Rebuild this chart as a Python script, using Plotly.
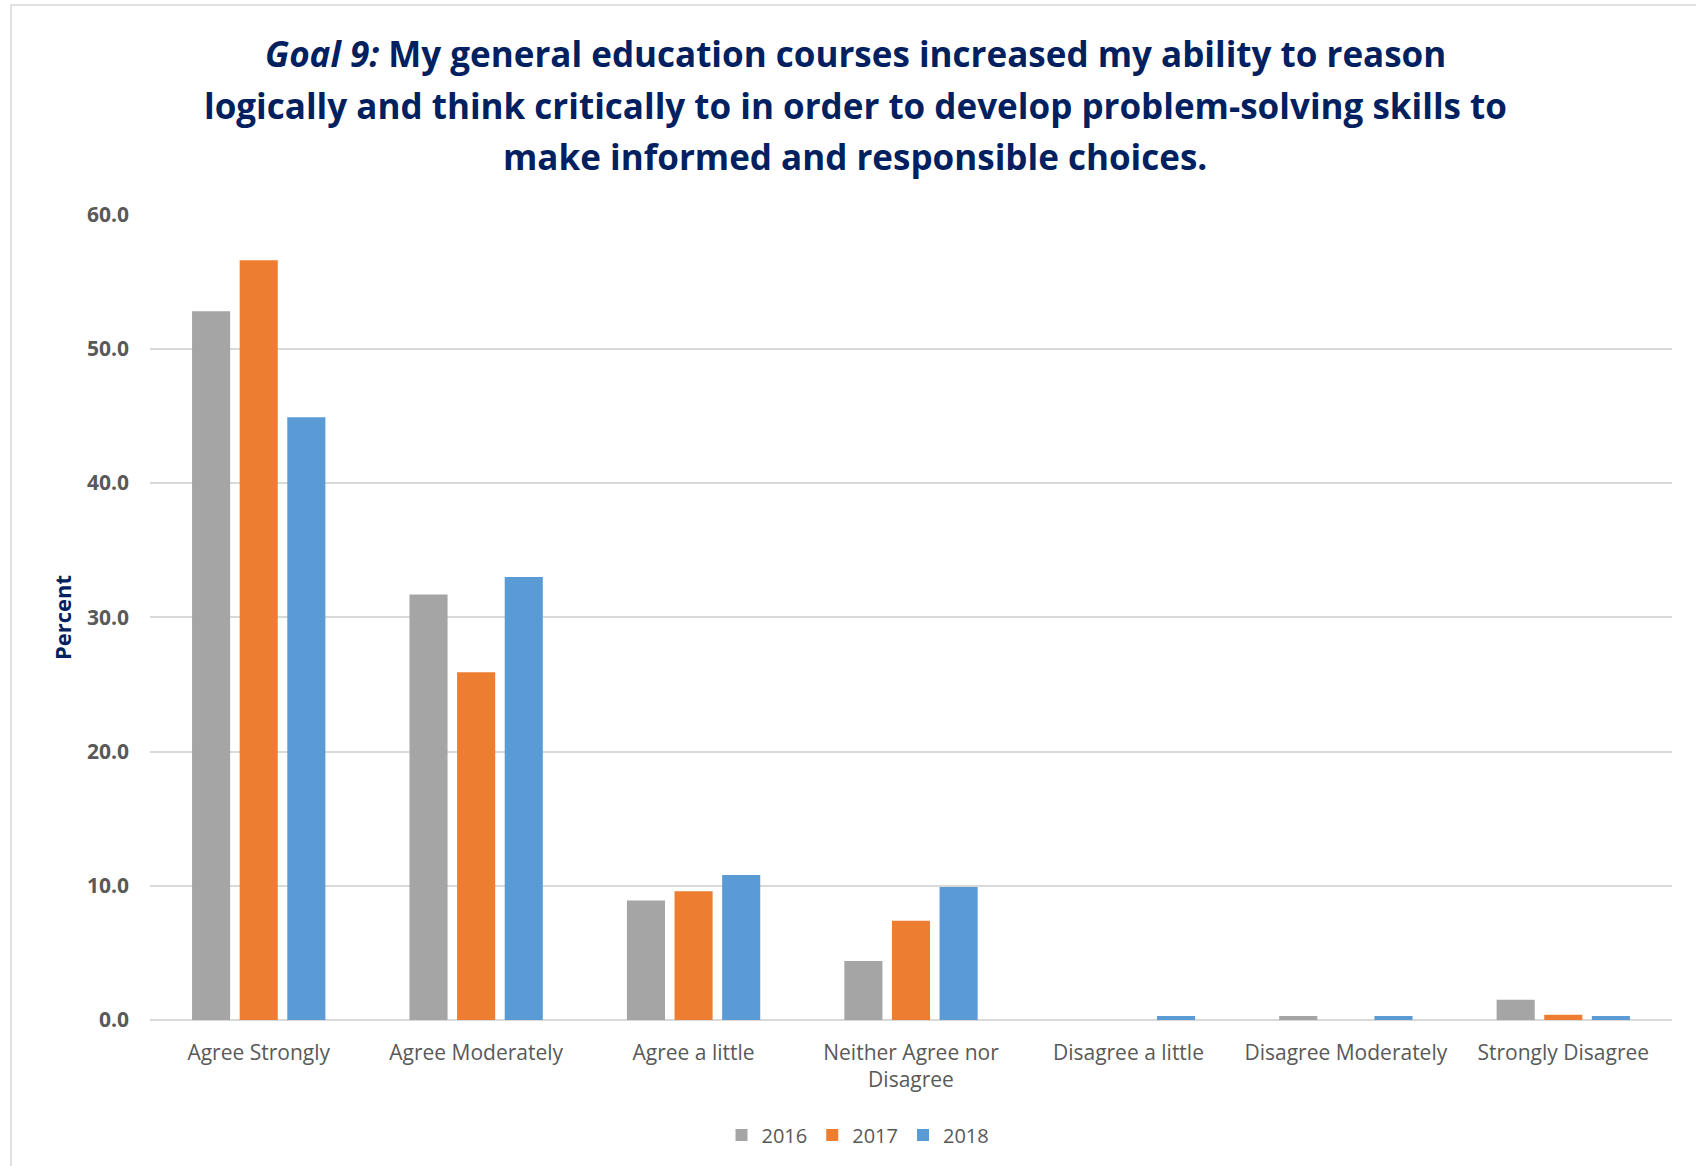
import plotly.graph_objects as go

categories = ["Agree Strongly", "Agree Moderately", "Agree a little",
              "Neither Agree nor<br>Disagree", "Disagree a little",
              "Disagree Moderately", "Strongly Disagree"]
years = ["2016", "2017", "2018"]
values_2016 = [52.8, 31.7, 8.9, 4.4, 0.0, 0.3, 1.5]
values_2017 = [56.6, 25.9, 9.6, 7.4, 0.0, 0.0, 0.4]
values_2018 = [44.9, 33.0, 10.8, 9.9, 0.3, 0.3, 0.3]
colors = ["#A5A5A5", "#ED7D31", "#5B9BD5"]
y_ticks = [0, 10, 20, 30, 40, 50, 60]

title_lines = [
    "<i>Goal 9:</i> My general education courses increased my ability to reason",
    "logically and think critically to in order to develop problem-solving skills to",
    "make informed and responsible choices.",
]

W, H = 1696, 1166
L, R, T, B = 150, 24, 214, 146
pw, ph = W - L - R, H - T - B

def px_x(x):
    return (x - L) / pw

def px_y(y):
    return (H - B - y) / ph

fig = go.Figure()
for yr, vals, c in zip(years, [values_2016, values_2017, values_2018], colors):
    fig.add_trace(go.Bar(name=yr, x=categories, y=vals, marker_color=c,
                         marker_line_width=0))

annotations = []
for i, (line, yp) in enumerate(zip(title_lines, [53, 105, 157])):
    annotations.append(dict(text="<b>" + line + "</b>", xref="paper", yref="paper",
                            x=px_x(855), y=px_y(yp), xanchor="center", yanchor="middle",
                            showarrow=False,
                            font=dict(family="Open Sans", size=35, color="#002060")))
annotations.append(dict(text="<b>Percent</b>", xref="paper", yref="paper",
                        x=px_x(62), y=px_y(618), xanchor="center", yanchor="middle",
                        textangle=-90, showarrow=False,
                        font=dict(family="Open Sans", size=22, color="#002060")))

fig.update_layout(
    width=W, height=H,
    margin=dict(l=L, r=R, t=T, b=B, pad=0),
    paper_bgcolor="white", plot_bgcolor="white",
    barmode="group", bargap=0.343, bargroupgap=0.2,
    annotations=annotations,
    shapes=[dict(type="rect", xref="paper", yref="paper",
                 x0=px_x(11), x1=px_x(1750), y0=px_y(1250), y1=px_y(5),
                 line=dict(color="#d9d9d9", width=1.5), fillcolor="rgba(0,0,0,0)",
                 layer="below")],
    legend=dict(orientation="h", x=px_x(858), y=px_y(1135), xanchor="center",
                yanchor="middle", font=dict(family="Open Sans", size=20, color="#595959"),
                itemwidth=30, traceorder="normal"),
    font=dict(family="Open Sans"),
)
fig.update_yaxes(range=[0, 60.05], tickvals=y_ticks, tickformat=".1f",
                 showgrid=True, gridcolor="#d9d9d9", gridwidth=1.5,
                 zeroline=True, zerolinecolor="#d9d9d9", zerolinewidth=2,
                 showline=False, ticks="", ticklabelstandoff=20,
                 tickfont=dict(family="Open Sans", size=21, color="#595959", weight="bold"))
fig.update_xaxes(showgrid=False, showline=False, ticks="", ticklabelstandoff=18,
                 tickfont=dict(family="Open Sans", size=21, color="#595959"))

fig.write_html("out.html")
